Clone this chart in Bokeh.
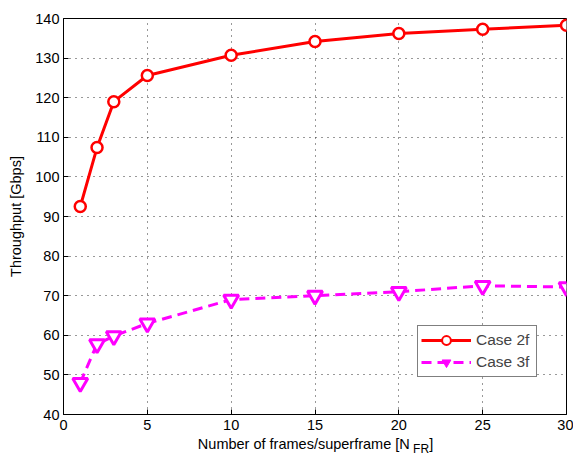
from bokeh.plotting import figure
from bokeh.layouts import column
from bokeh.models import Range1d, FixedTicker, Legend, LegendItem, Div
from bokeh.embed import file_html
from bokeh.resources import INLINE

# Throughput vs. number of frames per superframe
frames = [1, 2, 3, 5, 10, 15, 20, 25, 30]
case_2f = [92.5, 107.4, 119.0, 125.6, 130.7, 134.2, 136.2, 137.3, 138.3]
case_3f = [48.0, 57.8, 59.8, 63.0, 69.0, 70.0, 71.0, 72.5, 72.2]

x_ticks = [0, 5, 10, 15, 20, 25, 30]
y_ticks = [40, 50, 60, 70, 80, 90, 100, 110, 120, 130, 140]

FONT = "Liberation Sans"
FS = "14.5px"

p = figure(width=573, height=436, output_backend="svg", toolbar_location=None,
           x_range=Range1d(0, 30), y_range=Range1d(40, 140),
           min_border_left=63, min_border_right=7, min_border_top=18, min_border_bottom=22,
           background_fill_color="white", border_fill_color="white", margin=0)

p.outline_line_color = "black"
p.outline_line_width = 1
p.outline_line_alpha = 1

for ax in (p.xaxis[0], p.yaxis[0]):
    ax.major_tick_in = 5
    ax.major_tick_out = 0
    ax.minor_tick_in = 0
    ax.minor_tick_out = 0
    ax.major_label_text_font = FONT
    ax.major_label_text_font_size = FS
    ax.major_label_text_color = "black"
    ax.axis_line_color = "black"
    ax.major_tick_line_color = "black"

p.xaxis[0].ticker = FixedTicker(ticks=x_ticks)
p.yaxis[0].ticker = FixedTicker(ticks=y_ticks)
p.xaxis[0].major_label_standoff = 5
p.yaxis[0].major_label_standoff = 4

p.yaxis[0].axis_label = "Throughput [Gbps]"
p.yaxis[0].axis_label_text_font = FONT
p.yaxis[0].axis_label_text_font_size = FS
p.yaxis[0].axis_label_text_font_style = "normal"
p.yaxis[0].axis_label_text_color = "black"
p.yaxis[0].axis_label_standoff = 8

for g in (p.xgrid[0], p.ygrid[0]):
    g.grid_line_color = "#333333"
    g.grid_line_dash = "1 5"
    g.grid_line_width = 1
p.xgrid[0].ticker = FixedTicker(ticks=x_ticks)
p.ygrid[0].ticker = FixedTicker(ticks=y_ticks)

red = "#ff0000"
magenta = "#ff00ff"

l1 = p.line(frames, case_2f, line_color=red, line_width=3)
p.scatter(frames, case_2f, marker="circle", size=11, line_color=red,
          line_width=2.5, fill_color="white")
l2 = p.line(frames, case_3f, line_color=magenta, line_width=3, line_dash="10 6")
p.scatter(frames, case_3f, marker="inverted_triangle", size=15, line_color=magenta,
          line_width=3, fill_color="white")

# legend keys (not drawn in the data area): small hollow circle, solid triangle
nan = float("nan")
k1 = p.scatter(x=[nan], y=[nan], marker="circle", line_color=red, line_width=2,
               fill_color="white")
k2 = p.scatter(x=[nan], y=[nan], marker="inverted_triangle", line_color=magenta,
               line_width=1, fill_color=magenta)

legend = Legend(items=[LegendItem(label="Case 2f", renderers=[l1, k1]),
                       LegendItem(label="Case 3f", renderers=[l2, k2])],
                location=(354, 37), glyph_width=50, glyph_height=22,
                label_height=22, label_width=57, spacing=0, padding=3, margin=0,
                label_standoff=5, border_line_color="black", border_line_width=1,
                label_text_font=FONT, label_text_font_size="15.5px",
                label_text_baseline="middle",
                background_fill_alpha=1)
p.add_layout(legend, "center")

# x-axis title with subscript
xlabel = Div(text='Number of frames/superframe [N<sub style="font-size:12px;"> FR</sub>]',
             width=573, height=21, margin=0,
             styles={"text-align": "center", "font-family": FONT, "font-size": FS,
                     "color": "black", "padding-left": "58px", "box-sizing": "border-box",
                     "line-height": "16px", "background-color": "white"})

layout = column(p, xlabel, spacing=0, margin=0)

open("out.html", "w").write(file_html(layout, INLINE))
